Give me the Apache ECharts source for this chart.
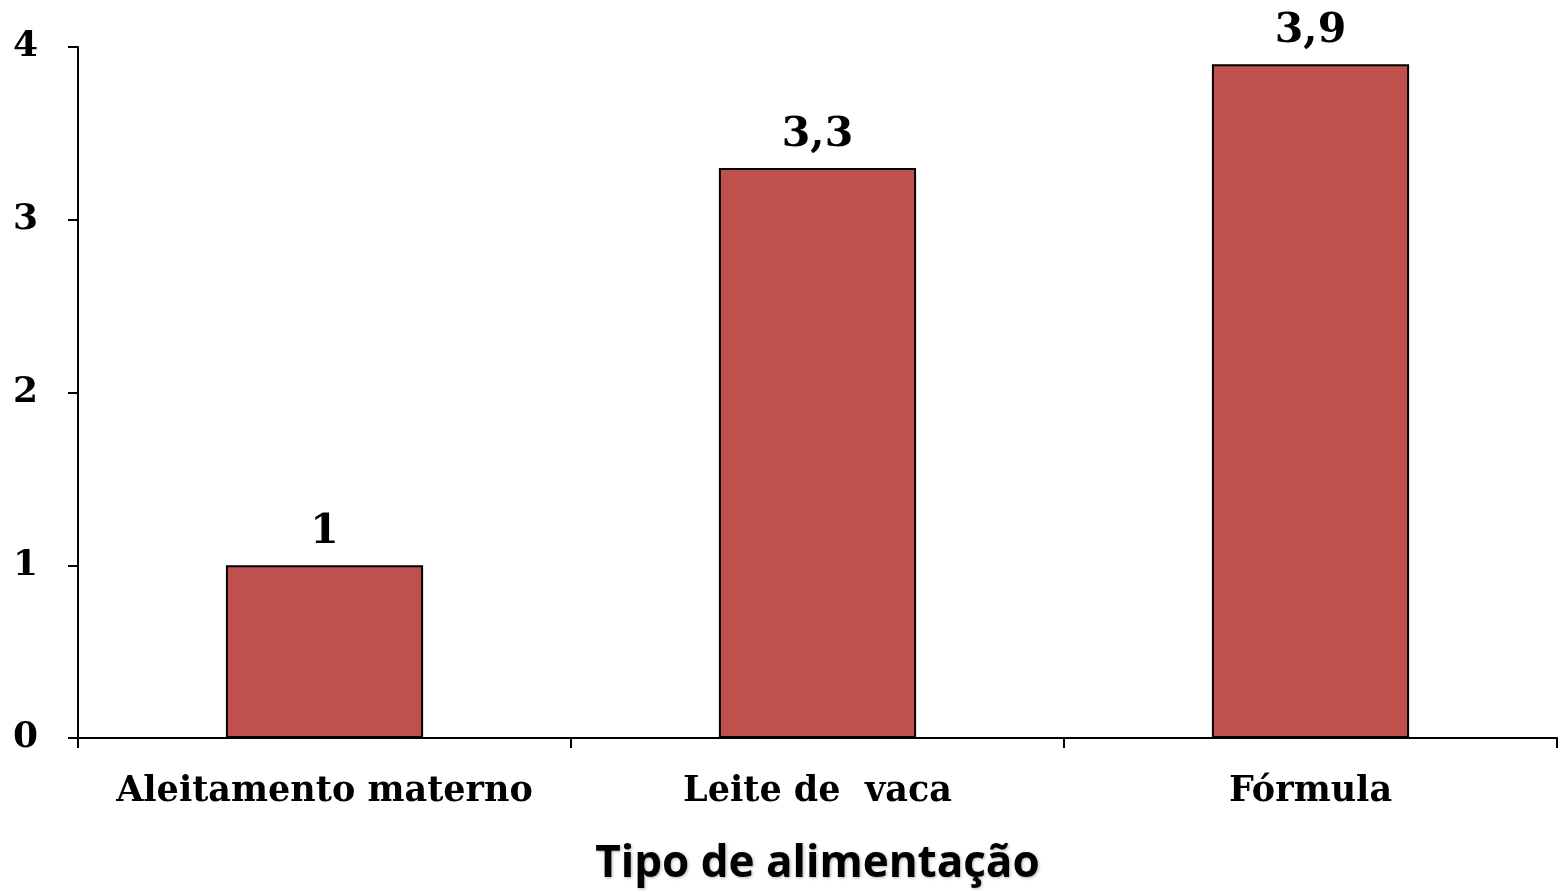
<!DOCTYPE html>
<html>
<head>
<meta charset="utf-8">
<script src="https://cdn.jsdelivr.net/npm/echarts@6/dist/echarts.min.js"></script>
<style>
  html, body { margin: 0; padding: 0; background: #fff; }
  #chart { width: 1560px; height: 892px; }
</style>
</head>
<body>
<div id="chart"></div>
<script>
// Feeding type categories and their values
const categories = ['Aleitamento materno', 'Leite de  vaca', 'Fórmula'];
const values = [1, 3.3, 3.9];
const yTicks = [0, 1, 2, 3, 4];

const serif = '"DejaVu Serif", "Liberation Serif", serif';
const chart = echarts.init(document.getElementById('chart'), null, { renderer: 'canvas' });

chart.setOption({
  animation: false,
  backgroundColor: '#ffffff',
  grid: { left: 78, right: 3, top: 47, bottom: 154, containLabel: false },
  xAxis: {
    type: 'category',
    data: categories,
    name: 'Tipo de alimentação',
    nameLocation: 'middle',
    nameGap: 104,
    nameTextStyle: {
      fontFamily: '"Open Sans", "Noto Sans", sans-serif',
      fontWeight: 'bold',
      fontSize: 44,
      color: '#000',
      textShadowColor: 'rgba(0,0,0,0.3)',
      textShadowBlur: 3,
      textShadowOffsetX: 1,
      textShadowOffsetY: 1
    },
    axisLine: { lineStyle: { color: '#000', width: 2 } },
    axisTick: { show: true, interval: 0, alignWithLabel: false, length: 10, lineStyle: { color: '#000', width: 2 } },
    axisLabel: {
      interval: 0,
      fontFamily: serif,
      fontWeight: 'bold',
      fontSize: 35,
      color: '#000',
      margin: 36
    },
    splitLine: { show: false }
  },
  yAxis: {
    type: 'value',
    min: 0,
    max: 4,
    interval: 1,
    axisLine: { show: true, lineStyle: { color: '#000', width: 2 } },
    axisTick: { show: true, length: 10, lineStyle: { color: '#000', width: 2 } },
    axisLabel: {
      fontFamily: serif,
      fontWeight: 'bold',
      fontSize: 36,
      color: '#000',
      margin: 40,
      formatter: v => yTicks.includes(v) ? String(v) : ''
    },
    splitLine: { show: false }
  },
  series: [{
    type: 'bar',
    data: values,
    barWidth: '40%',
    itemStyle: { color: '#C0504D', borderColor: '#000', borderWidth: 2 },
    label: {
      show: true,
      position: 'top',
      distance: 12,
      fontFamily: serif,
      fontWeight: 'bold',
      fontSize: 41,
      color: '#000',
      formatter: p => String(p.value).replace('.', ',')
    }
  }]
});
</script>
</body>
</html>
